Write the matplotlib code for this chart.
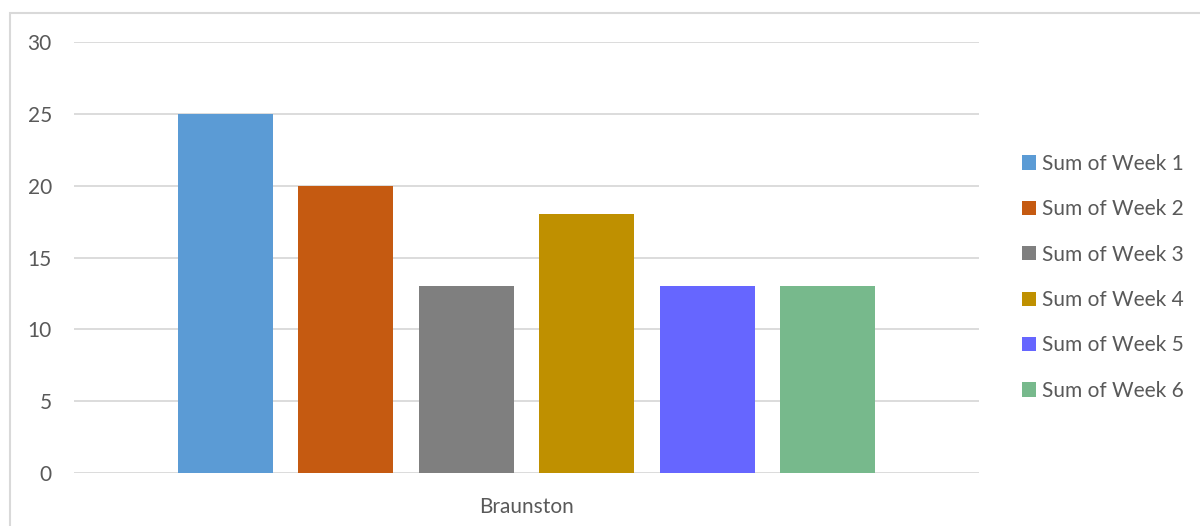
import numpy as np
import matplotlib
matplotlib.use('Agg')
import matplotlib.pyplot as plt
from matplotlib.patches import Rectangle

plt.rcParams['font.family'] = ['Lato', 'DejaVu Sans']

category = 'Braunston'
series = ['Sum of Week 1', 'Sum of Week 2', 'Sum of Week 3',
          'Sum of Week 4', 'Sum of Week 5', 'Sum of Week 6']
values = [25, 20, 13, 18, 13, 13]
colors = ['#5B9BD5', '#C55A11', '#7F7F7F', '#BF9000', '#6666FF', '#77B98C']

text_col = '#595959'
grid_col = '#D9D9D9'

fig = plt.figure(figsize=(12, 5.26), dpi=100)
W, H = 1200, 526

# chart border (bottom and right edges fall outside the image)
fig.patches.append(Rectangle((10 / W, -0.1), 1.2, 1.1 - 13 / H,
                             transform=fig.transFigure, fill=False,
                             edgecolor=grid_col, linewidth=1.5))

ax = fig.add_axes([74 / W, 1 - 473 / H, (979 - 74) / W, (473 - 42) / H])
ax.set_xlim(-0.5, 0.5)
ax.set_ylim(0, 30)

width = 95 / 905
step = 120.4 / 905
n = len(values)
for i, (v, c, s) in enumerate(zip(values, colors, series)):
    x = (i - (n - 1) / 2) * step
    ax.bar(x, v, width=width, color=c, label=s, zorder=3)

ax.set_yticks(range(0, 31, 5))
ax.yaxis.grid(True, color=grid_col, linewidth=1.3, zorder=0)
ax.set_xticks([0])
ax.set_xticklabels([category])
ax.tick_params(axis='both', length=0, labelsize=15, colors=text_col)
ax.tick_params(axis='y', pad=16)
ax.tick_params(axis='x', pad=17)
for sp in ax.spines.values():
    sp.set_visible(False)

ax.legend(loc='upper left', bbox_to_anchor=(1003 / W, 1 - 135 / H),
          bbox_transform=fig.transFigure, frameon=False, fontsize=15,
          labelcolor=text_col, handlelength=0.67, handleheight=0.67,
          handletextpad=0.3, labelspacing=1.22)

fig.savefig('out.png', dpi=100)
